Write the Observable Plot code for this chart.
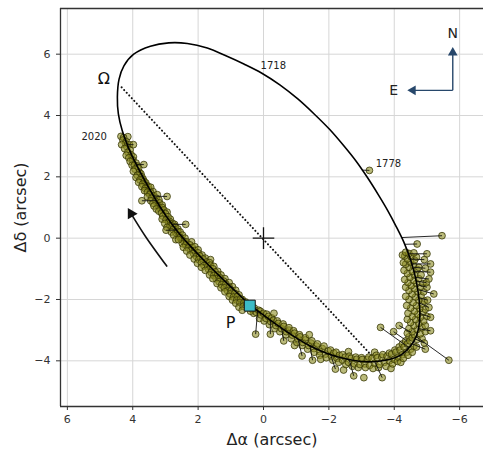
<!DOCTYPE html>
<html>
<head>
<meta charset="utf-8">
<script src="https://cdn.jsdelivr.net/npm/d3@7"></script>
<script src="https://cdn.jsdelivr.net/npm/@observablehq/plot@0.6"></script>
<style>
  html, body { margin: 0; padding: 0; background: #fff; }
  #chart svg { display: block; }
</style>
</head>
<body>
<div id="chart"></div>
<script>
// ---- tick values ----
const xTicks = [6, 4, 2, 0, -2, -4, -6];
const yTicks = [-4, -2, 0, 2, 4, 6];

// ---- fitted orbit (closed curve) ----
const orbit = [
  [2.90, 6.37], [2.33, 6.35], [1.72, 6.20], [1.15, 5.95], [0.60, 5.68], [0.05, 5.38],
  [-0.50, 5.00], [-1.05, 4.54], [-1.55, 4.05], [-2.02, 3.55], [-2.45, 3.02], [-2.84, 2.50],
  [-3.19, 1.96], [-3.51, 1.42], [-3.80, 0.90], [-4.06, 0.38], [-4.29, -0.12], [-4.48, -0.65],
  [-4.63, -1.20], [-4.73, -1.75], [-4.78, -2.28], [-4.77, -2.75], [-4.68, -3.18], [-4.50, -3.52],
  [-4.22, -3.80], [-3.85, -3.96], [-3.45, -4.02], [-3.00, -4.02], [-2.50, -3.93], [-1.95, -3.76],
  [-1.40, -3.50], [-0.88, -3.17], [-0.40, -2.82], [0.05, -2.47], [0.42, -2.17], [0.85, -1.74],
  [1.30, -1.28], [1.75, -0.80], [2.20, -0.30], [2.60, 0.18], [2.98, 0.72], [3.30, 1.26],
  [3.60, 1.82], [3.88, 2.38], [4.12, 2.92], [4.32, 3.50], [4.44, 4.05], [4.47, 4.60],
  [4.42, 5.18], [4.27, 5.62], [3.97, 6.00], [3.46, 6.26]
];

// ---- observed positions (Δα, Δδ) ----
const observations = [
  // left branch, 2020 end
  [4.36,3.32],[4.15,3.31],[4.28,3.28],[4.30,3.20],[4.20,3.15],[4.22,3.08],[4.10,3.05],[4.34,3.05],
  [4.18,2.98],[4.25,2.92],[4.08,2.88],[4.15,2.80],[4.05,2.72],[4.20,2.70],[3.98,2.65],[4.12,2.62],
  [4.00,2.55],[4.08,2.50],[3.90,2.45],[4.02,2.38],[3.95,2.38],[3.85,2.35],[3.82,2.28],[3.93,2.25],
  [3.80,2.15],[3.98,2.18],[3.75,2.10],[3.86,2.05],[3.72,2.00],[3.90,1.98],[3.68,1.92],[3.78,1.90],
  [3.65,1.85],[3.82,1.82],[3.60,1.80],[3.70,1.76],[3.58,1.72],[3.72,1.68],[3.52,1.68],[3.62,1.62],
  [3.50,1.58],[3.45,1.66],[3.64,1.55],[3.55,1.50],[3.38,1.52],[3.45,1.48],
  // left branch, middle
  [3.48,1.42],[3.35,1.38],[3.55,1.35],[3.25,1.42],[3.42,1.30],[3.28,1.30],[3.45,1.22],[3.20,1.25],
  [3.30,1.20],[3.38,1.14],[3.18,1.15],[3.22,1.05],[3.35,1.05],[3.10,1.08],[3.15,0.96],[3.10,1.00],
  [3.28,0.95],[3.05,0.92],[3.20,0.88],[2.95,0.85],[3.12,0.82],[3.00,0.80],[3.08,0.72],[2.92,0.70],
  [3.10,0.62],[2.98,0.60],[2.85,0.62],[2.88,0.55],[2.90,0.50],[3.02,0.48],[2.78,0.48],[2.72,0.45],
  [2.86,0.40],[2.80,0.40],[2.70,0.38],[2.95,0.35],[2.76,0.28],[2.62,0.30],[2.68,0.18],[2.82,0.20],
  [2.62,0.22],[2.55,0.20],[2.60,0.08],[2.75,0.10],[2.48,0.10],[2.52,-0.02],[2.55,0.02],[2.40,0.00],
  [2.68,-0.05],[2.44,-0.10],[2.48,-0.18],[2.60,-0.05],
  // left branch, lower part to P
  [2.35,-0.12],[2.20,-0.12],[2.38,-0.22],[2.25,-0.22],[2.45,-0.30],[2.30,-0.32],[2.18,-0.30],[2.10,-0.28],
  [2.22,-0.40],[2.35,-0.42],[2.10,-0.40],[2.00,-0.38],[2.14,-0.50],[2.25,-0.55],[2.00,-0.48],[1.88,-0.55],
  [2.05,-0.60],[1.95,-0.58],[2.12,-0.68],[1.98,-0.70],[1.78,-0.65],[1.85,-0.68],[1.62,-0.70],[2.02,-0.82],
  [1.90,-0.80],[1.75,-0.78],[1.65,-0.80],[1.82,-0.90],[1.90,-0.95],[1.70,-0.92],[1.62,-0.88],[1.52,-0.92],
  [1.68,-1.02],[1.78,-1.05],[1.55,-1.00],[1.60,-1.12],[1.40,-1.08],[1.48,-1.10],[1.65,-1.20],[1.52,-1.22],
  [1.30,-1.20],[1.40,-1.20],[1.45,-1.32],[1.55,-1.32],[1.32,-1.30],[1.18,-1.32],[1.36,-1.42],[1.42,-1.48],
  [1.22,-1.40],[1.05,-1.45],[1.28,-1.52],[1.15,-1.50],[1.30,-1.62],[1.20,-1.62],[0.95,-1.58],[1.05,-1.60],
  [1.10,-1.72],[1.18,-1.75],[0.98,-1.70],[0.85,-1.70],[1.02,-1.82],[0.88,-1.80],[1.05,-1.90],[0.92,-1.92],
  [0.75,-1.85],[0.80,-1.90],[0.95,-2.02],[0.82,-2.02],[0.65,-2.00],[0.70,-1.98],[0.85,-2.12],[0.72,-2.10],
  [0.55,-2.08],[0.60,-2.10],[0.75,-2.25],[0.62,-2.22],[0.50,-2.18],[0.65,-2.35],
  // bottom
  [0.35,-2.32],[0.30,-2.45],[0.40,-2.38],[0.28,-2.28],[0.22,-2.42],[0.15,-2.35],[0.10,-2.38],[0.12,-2.62],
  [0.08,-2.50],[0.00,-2.45],[-0.02,-2.70],[-0.08,-2.62],[-0.10,-2.48],[-0.15,-2.55],[-0.18,-2.82],[-0.22,-2.72],
  [-0.25,-2.60],[-0.30,-2.68],[-0.32,-2.45],[-0.35,-2.95],[-0.38,-2.85],[-0.42,-2.70],[-0.45,-2.78],[-0.50,-3.05],
  [-0.55,-2.95],[-0.60,-2.80],[-0.62,-2.88],[-0.68,-3.15],[-0.70,-3.05],[-0.78,-3.00],[-0.78,-2.92],[-0.85,-3.28],
  [-0.88,-3.16],[-0.92,-3.02],[-0.95,-3.10],[-0.95,-3.50],[-1.02,-3.40],[-1.05,-3.28],[-1.10,-3.15],[-1.12,-3.22],
  [-1.18,-3.50],[-1.20,-3.40],[-1.28,-3.32],[-1.28,-3.25],[-1.35,-3.62],[-1.38,-3.50],[-1.40,-3.15],[-1.45,-3.42],
  [-1.48,-3.35],[-1.55,-3.60],[-1.55,-3.72],[-1.62,-3.52],[-1.65,-3.45],[-1.72,-3.70],[-1.72,-3.82],[-1.75,-3.95],
  [-1.80,-3.60],[-1.85,-3.52],[-1.90,-3.78],[-1.92,-3.90],[-1.98,-3.68],[-2.05,-3.65],[-2.08,-3.85],[-2.12,-3.98],
  [-2.15,-3.75],[-2.22,-3.72],[-2.25,-3.92],[-2.30,-4.05],[-2.32,-3.82],[-2.42,-3.98],[-2.42,-3.80],[-2.45,-4.30],
  [-2.50,-3.88],[-2.52,-4.12],[-2.60,-4.05],[-2.60,-3.70],[-2.62,-3.85],[-2.68,-3.92],[-2.72,-4.18],[-2.78,-4.10],
  [-2.82,-3.88],[-2.85,-3.95],[-2.90,-4.22],[-2.95,-4.12],[-3.00,-3.90],[-3.02,-3.96],[-3.07,-4.55],
  // bottom-right corner
  [-3.10,-4.10],[-3.12,-4.22],[-3.18,-3.95],[-3.22,-3.88],[-3.25,-4.15],[-3.32,-3.92],[-3.35,-4.25],[-3.40,-4.08],
  [-3.40,-3.72],[-3.45,-3.82],[-3.48,-3.90],[-3.52,-4.22],[-3.55,-4.12],[-3.62,-3.88],[-3.65,-3.80],[-3.70,-4.05],
  [-3.75,-4.18],[-3.78,-3.85],[-3.85,-4.00],[-3.85,-3.75],[-3.90,-4.25],[-3.92,-3.78],[-3.95,-4.10],[-4.00,-3.95],
  [-4.02,-3.65],[-4.05,-3.72],[-4.10,-4.02],[-4.12,-3.88],[-4.15,-3.55],[-4.18,-3.65],[-4.20,-4.05],[-4.25,-3.80],
  [-4.25,-3.45],[-4.28,-3.92],[-4.30,-3.55],[-4.35,-3.35],[-4.38,-3.72],[-4.40,-3.45],[-4.42,-3.82],[-4.45,-3.22],
  [-4.48,-3.35],[-4.50,-3.62],[-4.55,-3.72],[-4.55,-3.25],[-4.60,-3.52],[-4.68,-3.55],[-4.40,-3.10],
  // right side
  [-4.70,-3.30],[-4.85,-3.28],[-4.62,-3.15],[-4.80,-3.12],[-4.55,-3.05],[-4.95,-3.05],[-4.70,-2.98],[-4.45,-2.95],
  [-4.85,-2.92],[-4.60,-2.85],[-4.95,-2.85],[-4.75,-2.78],[-4.50,-2.75],[-4.90,-2.70],[-4.40,-2.65],[-4.65,-2.65],
  [-4.80,-2.58],[-5.00,-2.55],[-4.55,-2.55],[-4.72,-2.48],[-4.42,-2.45],[-4.88,-2.42],[-4.62,-2.38],[-4.95,-2.32],
  [-4.78,-2.30],[-4.50,-2.28],[-4.38,-2.20],[-4.68,-2.20],[-4.85,-2.15],[-4.58,-2.10],[-4.92,-2.05],[-4.75,-2.02],
  [-4.45,-2.00],[-4.65,-1.92],[-4.35,-1.90],[-4.82,-1.88],[-4.55,-1.82],[-4.90,-1.75],[-4.72,-1.75],[-4.45,-1.70],
  [-4.62,-1.65],[-4.80,-1.60],[-4.35,-1.60],[-4.52,-1.55],[-4.68,-1.48],[-4.88,-1.48],[-4.42,-1.45],[-4.60,-1.38],
  [-4.32,-1.35],[-4.75,-1.32],[-4.48,-1.28],[-4.62,-1.20],[-4.82,-1.20],[-4.40,-1.15],[-4.55,-1.08],[-4.30,-1.05],
  [-4.70,-1.02],[-4.45,-0.95],[-4.75,-0.95],[-4.58,-0.88],[-4.35,-0.85],[-4.28,-0.80],[-4.50,-0.78],[-4.62,-0.72],
  [-4.40,-0.68],[-4.52,-0.60],[-4.68,-0.62],[-4.32,-0.58],[-4.45,-0.50],[-4.25,-0.55],[-4.60,-0.48],[-4.35,-0.46]
];

// ---- observations with visible residual lines: [obs Δα, obs Δδ, orbit Δα, orbit Δδ] ----
const residuals = [
  [3.98,3.05, 4.17,3.05], [3.66,2.40, 3.89,2.40], [3.72,1.22, 3.28,1.22], [2.95,1.36, 3.36,1.37],
  [2.38,0.45, 2.80,0.45], [2.98,0.26, 2.66,0.26],
  [0.24,-3.13, 0.18,-2.37], [-0.21,-3.13, -0.21,-2.67], [-0.62,-3.35, -0.55,-2.92],
  [-1.18,-3.84, -1.05,-3.27], [-1.50,-3.98, -1.42,-3.51], [-2.20,-4.27, -2.05,-3.79],
  [-2.76,-4.49, -2.62,-3.96], [-3.63,-4.55, -3.40,-4.02],
  [-3.58,-2.91, -4.45,-3.57], [-3.98,-3.05, -4.38,-3.35], [-4.15,-2.85, -4.52,-3.08],
  [-5.67,-3.98, -4.68,-3.22], [-4.95,-3.62, -4.55,-3.45], [-4.92,-3.42, -4.63,-3.28],
  [-5.11,-3.02, -4.73,-2.95], [-5.11,-2.58, -4.78,-2.45], [-5.06,-2.26, -4.78,-2.12], [-5.02,-2.02, -4.77,-1.95],
  [-5.21,-1.82, -4.75,-1.68], [-5.00,-1.60, -4.72,-1.52], [-4.98,-1.45, -4.69,-1.40],
  [-5.06,-1.33, -4.66,-1.28], [-5.11,-1.11, -4.61,-1.08], [-4.95,-0.98, -4.59,-0.95],
  [-5.11,-0.84, -4.53,-0.84], [-4.92,-0.70, -4.50,-0.68],
  [-5.00,-0.51, -4.44,-0.51], [-4.70,-0.19, -4.32,-0.20], [-5.46,0.08, -4.22,0.02],
  [-3.24,2.21, -3.01,2.22]
];

// ---- annotations ----
const nodeLine = [[4.34, 4.92], [-3.32, -3.84]];
const periastron = [[0.42, -2.20]];
const primary = [[0, 0]];
const epochLabels = [
  {x: -0.30, y: 5.62, text: "1718"},
  {x: -3.82, y: 2.43, text: "1778"},
  {x: 5.18, y: 3.31, text: "2020"}
];
const bigLabels = [
  {x: 4.88, y: 5.18, text: "Ω"},
  {x: 1.01, y: -2.76, text: "P"}
];
const motionArrow = [[2.96, -0.91], [3.60, 0.04], [4.05, 0.80]];
const motionHead = [[4.05, 0.80]];
const compassShafts = [[-5.79, 4.82, -5.79, 6.05], [-5.79, 4.82, -4.57, 4.82]];
const compassHeads = [{x: -5.79, y: 6.05, rot: 0}, {x: -4.57, y: 4.82, rot: -90}];
const compassLabels = [{x: -5.79, y: 6.68, text: "N"}, {x: -3.98, y: 4.82, text: "E"}];

const xDomain = [6.21, -6.73];
const yDomain = [-5.49, 7.49];
const fmt = d => (d < 0 ? "\u2212" + Math.abs(d) : String(d));
const compassColor = "#27476b";

const allObs = observations.concat(residuals.map(r => [r[0], r[1]]));

const chart = Plot.plot({
  width: 483,
  height: 454,
  marginLeft: 60,
  marginRight: 0,
  marginTop: 8,
  marginBottom: 48,
  style: {fontFamily: "DejaVu Sans, sans-serif", fontSize: "11px", color: "#333", background: "#fff"},
  x: {domain: xDomain, ticks: xTicks, tickFormat: fmt, tickSize: 4, label: null},
  y: {domain: yDomain, ticks: yTicks, tickFormat: fmt, tickSize: 4, tickPadding: 6, label: null},
  marks: [
    Plot.gridX(xTicks, {stroke: "#d6d6d6", strokeOpacity: 1}),
    Plot.gridY(yTicks, {stroke: "#d6d6d6", strokeOpacity: 1}),
    Plot.ruleX([xDomain[0]], {stroke: "#333", strokeWidth: 1.3}),
    Plot.ruleY([yDomain[0], yDomain[1]], {stroke: "#333", strokeWidth: 1.3}),
    // line of nodes
    Plot.line(nodeLine, {x: d => d[0], y: d => d[1], stroke: "#111", strokeWidth: 2, strokeDasharray: "0.1,3.6", strokeLinecap: "round"}),
    // observations
    Plot.dot(allObs, {x: d => d[0], y: d => d[1], r: 3.4, fill: "#8c8c22", fillOpacity: 0.6, stroke: "#333303", strokeOpacity: 0.85, strokeWidth: 0.9}),
    // residual lines
    Plot.link(residuals, {x1: d => d[0], y1: d => d[1], x2: d => d[2], y2: d => d[3], stroke: "#111", strokeWidth: 0.9}),
    // orbit
    Plot.line(orbit, {x: d => d[0], y: d => d[1], curve: "catmull-rom-closed", stroke: "#000", strokeWidth: 1.6}),
    // periastron marker
    Plot.dot(periastron, {x: d => d[0], y: d => d[1], symbol: "square", r: 6.2, fill: "#3cbcc6", stroke: "#111", strokeWidth: 1}),
    // primary
    Plot.dot(primary, {x: d => d[0], y: d => d[1], symbol: "plus", r: 7, stroke: "#111", strokeWidth: 1.3}),
    // motion arrow
    Plot.line(motionArrow, {x: d => d[0], y: d => d[1], curve: "natural", stroke: "#111", strokeWidth: 1.6}),
    Plot.dot(motionHead, {x: d => d[0], y: d => d[1], symbol: "triangle", r: 4.2, fill: "#111", rotate: -30}),
    // compass
    Plot.link(compassShafts, {x1: d => d[0], y1: d => d[1], x2: d => d[2], y2: d => d[3], stroke: compassColor, strokeWidth: 1.4}),
    Plot.dot(compassHeads, {x: "x", y: "y", rotate: "rot", symbol: "triangle", r: 3.6, fill: compassColor}),
    Plot.text(compassLabels, {x: "x", y: "y", text: "text", fontSize: 14, fill: "#222"}),
    // labels
    Plot.text(epochLabels, {x: "x", y: "y", text: "text", fontSize: 10, fill: "#222"}),
    Plot.text(bigLabels, {x: "x", y: "y", text: "text", fontSize: 16, fill: "#111"}),
    // axis titles
    Plot.text(["\u0394\u03b1 (arcsec)"], {frameAnchor: "bottom", textAnchor: "middle", lineAnchor: "middle", dy: 33, fontSize: 16, fill: "#222"}),
    Plot.text(["\u0394\u03b4 (arcsec)"], {frameAnchor: "left", textAnchor: "middle", lineAnchor: "middle", dx: -40, rotate: -90, fontSize: 16, fill: "#222"})
  ]
});
document.getElementById("chart").appendChild(chart);
</script>
</body>
</html>
